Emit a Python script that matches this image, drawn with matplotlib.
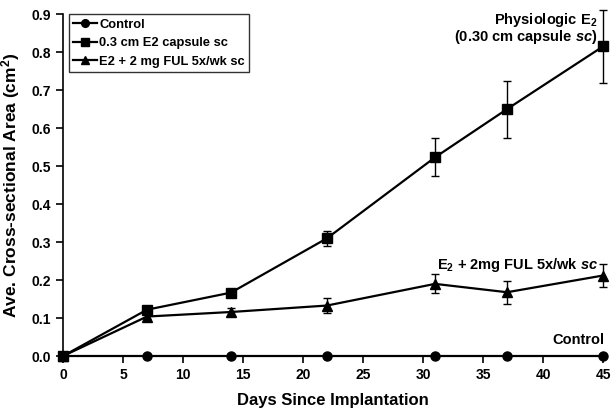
import matplotlib
matplotlib.use('Agg')
from matplotlib import pyplot as plt
import numpy as np

plt.rcParams['font.family'] = ['Liberation Sans', 'DejaVu Sans']
plt.rcParams['font.weight'] = 'bold'
plt.rcParams['mathtext.fontset'] = 'custom'
plt.rcParams['mathtext.rm'] = 'Liberation Sans:bold'
plt.rcParams['mathtext.it'] = 'Liberation Sans:bold:italic'
plt.rcParams['mathtext.bf'] = 'Liberation Sans:bold'

days = [0, 7, 14, 22, 31, 37, 45]
control = [0, 0, 0, 0, 0, 0, 0]
e2 = [0, 0.122, 0.167, 0.310, 0.523, 0.650, 0.815]
e2_err = [0, 0.008, 0.008, 0.020, 0.050, 0.075, 0.095]
ful = [0, 0.104, 0.116, 0.133, 0.190, 0.168, 0.212]
ful_err = [0, 0.006, 0.010, 0.020, 0.025, 0.030, 0.030]
labels = ['Control', '0.3 cm E2 capsule sc', 'E2 + 2 mg FUL 5x/wk sc']

fig = plt.figure(figsize=(6.11, 4.15), dpi=100)
ax = fig.add_axes([0.103, 0.142, 0.884, 0.824])

common = dict(color='black', linewidth=1.6, markersize=6.5, capsize=3,
              elinewidth=1, capthick=1, clip_on=False, zorder=3)
h1 = ax.errorbar(days, control, marker='o', **common)
h2 = ax.errorbar(days, e2, yerr=e2_err, marker='s', **common)
h3 = ax.errorbar(days, ful, yerr=ful_err, marker='^', **common)
for h in (h1, h2, h3):
    for b in h[1]:
        b.set_clip_on(False)
    for b in h[2]:
        b.set_clip_on(False)

ax.set_xlim(0, 45)
ax.set_ylim(0, 0.9)
ax.set_xticks(np.arange(0, 46, 5))
ax.set_yticks(np.arange(0, 0.91, 0.1))
ax.set_yticklabels(['%.1f' % v for v in np.arange(0, 0.91, 0.1)])
ax.spines['top'].set_visible(False)
ax.spines['right'].set_visible(False)
ax.spines['left'].set_linewidth(1.2)
ax.spines['bottom'].set_linewidth(1.2)
ax.tick_params(direction='out', length=5, width=1.2, labelsize=10)

ax.set_xlabel('Days Since Implantation', fontsize=12, fontweight='bold', labelpad=8)
ax.set_ylabel(r'Ave. Cross-sectional Area (cm$^{2}$)', fontsize=12.5,
              fontweight='bold', labelpad=7)

ax.text(44.5, 0.884, r'Physiologic E$_{2}$', ha='right', va='center', fontsize=10.5)
ax.text(44.5, 0.840, r'(0.30 cm capsule $sc$)', ha='right', va='center', fontsize=10.5)
ax.text(44.6, 0.24, r'E$_{2}$ + 2mg FUL 5x/wk $sc$', ha='right', va='center', fontsize=10.5)
ax.text(45.1, 0.042, 'Control', ha='right', va='center', fontsize=10.5)

leg = ax.legend([h1[0], h2[0], h3[0]], labels,
                loc='upper left', bbox_to_anchor=(0.011, 1.0), fontsize=9.3,
                frameon=True, fancybox=False, handlelength=1.8, markerscale=0.85,
                handletextpad=0.2, borderpad=0.35, labelspacing=0.5,
                borderaxespad=0.0)
leg.get_frame().set_edgecolor('black')
leg.get_frame().set_linewidth(1.0)
for t in leg.get_texts():
    t.set_fontweight('bold')

plt.savefig('out.png', dpi=100)
